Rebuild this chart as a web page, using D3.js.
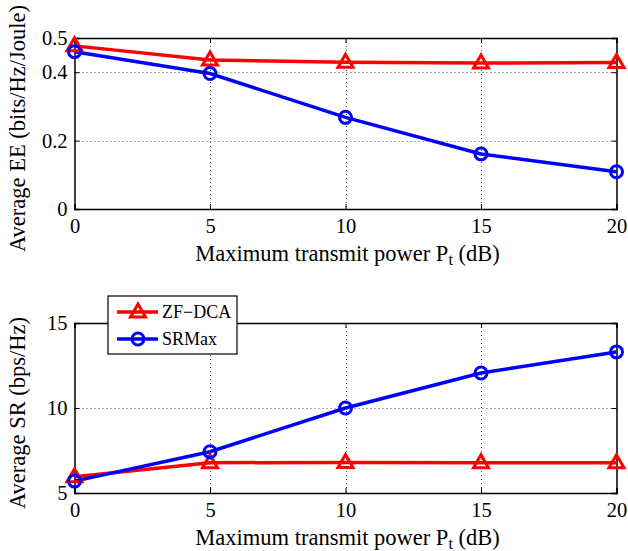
<!DOCTYPE html>
<html>
<head>
<meta charset="utf-8">
<script src="https://cdn.jsdelivr.net/npm/d3@7"></script>
<style>
  body { margin: 0; background: #fff; }
  svg text { font-family: "Liberation Serif", "Times New Roman", serif; fill: #000; }
</style>
</head>
<body>
<svg id="chart" width="628" height="551"></svg>
<script>
// power levels (dB)
var powers = [0, 5, 10, 15, 20];

// average energy efficiency (bits/Hz/Joule)
var eeZF = [0.477, 0.436, 0.429, 0.427, 0.428];
var eeSR = [0.460, 0.396, 0.268, 0.161, 0.109];

// average sum rate (bps/Hz)
var srZF = [5.96, 6.78, 6.80, 6.78, 6.78];
var srSR = [5.70, 7.43, 10.0, 12.06, 13.3];

var xTicks = [0, 5, 10, 15, 20];
var eeTicks = [0, 0.2, 0.4, 0.5];
var srTicks = [5, 10, 15];

var seriesNames = ["ZF\u2212DCA", "SRMax"];
var red = "#ff0000", blue = "#0000ff";

var svg = d3.select("#chart");

function triangle(g, x, y) {
  g.append("path")
    .attr("d", "M" + x + "," + (y - 8) + "L" + (x + 7.5) + "," + (y + 5) + "L" + (x - 7.5) + "," + (y + 5) + "Z")
    .attr("fill", "none").attr("stroke", red).attr("stroke-width", 3);
}
function circle(g, x, y) {
  g.append("circle").attr("cx", x).attr("cy", y).attr("r", 6)
    .attr("fill", "none").attr("stroke", blue).attr("stroke-width", 3);
}

function panel(top, bottom, yDomain, yTicks, yFmt, red_vals, blue_vals, yLabel) {
  var left = 74.5, right = 616.5;
  var x = d3.scaleLinear().domain([0, 20]).range([left, right]);
  var y = d3.scaleLinear().domain(yDomain).range([bottom, top]);
  var g = svg.append("g");

  // dotted grid
  g.selectAll(".vg").data(xTicks.slice(1, -1)).enter().append("line")
    .attr("x1", function(d) { return Math.round(x(d)) + 0.5; })
    .attr("x2", function(d) { return Math.round(x(d)) + 0.5; })
    .attr("y1", top).attr("y2", bottom)
    .attr("stroke", "#555").attr("stroke-width", 1).attr("stroke-dasharray", "1,3");
  g.selectAll(".hg").data(yTicks.filter(function(t) { return t !== yDomain[0] && t !== yDomain[1]; })).enter().append("line")
    .attr("y1", function(d) { return Math.round(y(d)) + 0.5; })
    .attr("y2", function(d) { return Math.round(y(d)) + 0.5; })
    .attr("x1", left).attr("x2", right)
    .attr("stroke", "#555").attr("stroke-width", 1).attr("stroke-dasharray", "1,3");

  // axes with inward ticks
  var ax = d3.axisBottom(x).tickValues(xTicks).tickSize(-5).tickPadding(9).tickFormat(d3.format("d"));
  var axTop = d3.axisTop(x).tickValues(xTicks).tickSize(-5).tickFormat("");
  var ay = d3.axisLeft(y).tickValues(yTicks).tickSize(-5).tickPadding(7).tickFormat(yFmt);
  var ayRight = d3.axisRight(y).tickValues(yTicks).tickSize(-5).tickFormat("");

  [g.append("g").attr("transform", "translate(0," + bottom + ")").call(ax),
   g.append("g").attr("transform", "translate(0," + top + ")").call(axTop),
   g.append("g").attr("transform", "translate(" + left + ",0)").call(ay),
   g.append("g").attr("transform", "translate(" + right + ",0)").call(ayRight)].forEach(function(a) {
    a.select(".domain").attr("stroke", "#000").attr("stroke-width", 1.5);
    a.selectAll(".tick line").attr("stroke", "#000");
    a.selectAll("text").attr("font-size", 20.5).attr("font-family", "Liberation Serif");
  });

  var line = d3.line().x(function(d, i) { return x(powers[i]); }).y(function(d) { return y(d); });
  g.append("path").datum(red_vals).attr("d", line).attr("fill", "none").attr("stroke", red).attr("stroke-width", 3.5);
  g.append("path").datum(blue_vals).attr("d", line).attr("fill", "none").attr("stroke", blue).attr("stroke-width", 3.5);
  red_vals.forEach(function(v, i) { triangle(g, x(powers[i]), y(v)); });
  blue_vals.forEach(function(v, i) { circle(g, x(powers[i]), y(v)); });

  // labels
  var xl = g.append("text").attr("x", (left + right) / 2 + 2).attr("y", bottom + 52)
    .attr("text-anchor", "middle").attr("font-size", 22.5);
  xl.append("tspan").text("Maximum transmit power P");
  xl.append("tspan").attr("font-size", 16).attr("dy", 4).text("t");
  xl.append("tspan").attr("dy", -4).text(" (dB)");

  g.append("text").attr("transform", "translate(25," + ((top + bottom) / 2 + 5) + ") rotate(-90)")
    .attr("text-anchor", "middle").attr("font-size", 22.5).text(yLabel);

  return g;
}

panel(38, 209, [0, 0.5], eeTicks, function(d) { return d === 0 ? "0" : d3.format(".1f")(d); },
  eeZF, eeSR, "Average EE (bits/Hz/Joule)");
panel(323, 493, [5, 15], srTicks, d3.format("d"), srZF, srSR, "Average SR (bps/Hz)");

// legend
var lg = svg.append("g").attr("transform", "translate(108,296)");
lg.append("rect").attr("width", 129).attr("height", 58).attr("fill", "#fff").attr("stroke", "#000").attr("stroke-width", 1.2);
seriesNames.forEach(function(name, i) {
  var yy = 16 + i * 27;
  var col = i === 0 ? red : blue;
  lg.append("line").attr("x1", 9).attr("x2", 50).attr("y1", yy).attr("y2", yy).attr("stroke", col).attr("stroke-width", 3.5);
  if (i === 0) triangle(lg, 30, yy); else circle(lg, 30, yy);
  lg.append("text").attr("x", 54).attr("y", yy + 6).attr("font-size", 18).text(name);
});
</script>
</body>
</html>
